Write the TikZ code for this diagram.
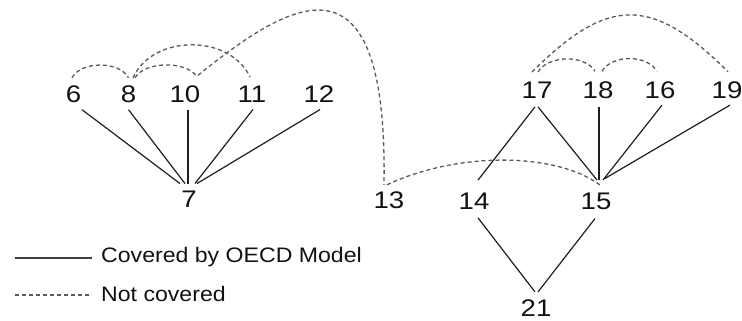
\documentclass[tikz,border=0pt]{standalone}
\usepackage{fontspec}
\setmainfont{Liberation Sans}
\newfontfamily\numfont[FakeStretch=1.15]{Liberation Sans}
\newfontfamily\legfont[FakeStretch=1.1]{Liberation Sans}
\definecolor{txt}{HTML}{111111}
\definecolor{solidc}{HTML}{1E1E1E}
\definecolor{dashc}{HTML}{5A5A5A}
\begin{document}
\begin{tikzpicture}[x=1pt,y=1pt,
  num/.style={inner sep=0pt, font=\numfont\fontsize{24}{24}\selectfont, text=txt},
  cov/.style={draw=solidc, line width=1.2pt},
  notcov/.style={draw=dashc, line width=1.3pt, dash pattern=on 4pt off 3pt},
  leg/.style={inner sep=0pt, anchor=base west, font=\legfont\fontsize{21}{21}\selectfont, text=txt}]
\useasboundingbox (0,0) rectangle (742,321);

% nodes
\node[num] (n6)  at (73.5,227) {6};
\node[num] (n8)  at (128.5,227) {8};
\node[num] (n10) at (185,227) {10};
\node[num] (n11) at (252,227) {11};
\node[num] (n12) at (319,227) {12};
\node[num] (n7)  at (189,122) {7};
\node[num] (n13) at (389,121) {13};
\node[num] (n17) at (537,231) {17};
\node[num] (n18) at (598,231) {18};
\node[num] (n16) at (660,231) {16};
\node[num] (n19) at (727,231) {19};
\node[num] (n14) at (474,120) {14};
\node[num] (n15) at (596,120) {15};
\node[num] (n21) at (536,12.5) {21};

% covered (solid) connectors
\draw[cov] ([xshift=8.5pt,yshift=-7pt]n6.south) -- ([xshift=-9pt,yshift=7pt]n7.north);
\draw[cov] ([yshift=-7pt]n8.south) -- ([xshift=-4pt,yshift=7pt]n7.north);
\draw[cov] ([xshift=3pt,yshift=-7pt]n10.south) -- ([xshift=-1pt,yshift=7pt]n7.north);
\draw[cov] ([xshift=1pt,yshift=-7pt]n11.south) -- ([xshift=6pt,yshift=7pt]n7.north);
\draw[cov] ([xshift=1pt,yshift=-7pt]n12.south) -- ([xshift=8pt,yshift=7pt]n7.north);

\draw[cov] ([xshift=-2pt,yshift=-8.4pt]n17.south) -- ([xshift=4pt,yshift=12.4pt]n14.north);
\draw[cov] ([xshift=1pt,yshift=-8.4pt]n17.south) -- ([xshift=1pt,yshift=12.4pt]n15.north);
\draw[cov] ([xshift=1pt,yshift=-8.4pt]n18.south) -- ([xshift=3pt,yshift=12.4pt]n15.north);
\draw[cov] ([xshift=2pt,yshift=-6.4pt]n16.south) -- ([xshift=7pt,yshift=12.4pt]n15.north);
\draw[cov] ([xshift=3pt,yshift=-6.4pt]n19.south) -- ([xshift=9pt,yshift=14pt]n15.north);
\draw[cov] ([xshift=4pt,yshift=-8.4pt]n14.south) -- ([xshift=-1pt,yshift=8pt]n21.north);
\draw[cov] ([xshift=-1pt,yshift=-9pt]n15.south) -- ([xshift=2pt,yshift=8pt]n21.north);

% not covered (dashed) connectors
\draw[notcov] ([xshift=-1.5pt,yshift=7.5pt]n6.north) .. controls +(9,17) and +(-9,17) .. ([yshift=7.5pt]n8.north);
\draw[notcov] ([xshift=6.5pt,yshift=7.5pt]n8.north) .. controls +(10,17) and +(-10,16) .. ([xshift=12pt,yshift=8.5pt]n10.north);
\draw[notcov] ([xshift=4.5pt,yshift=7.5pt]n8.north) .. controls +(20,44) and +(-20,43) .. ([xshift=-2pt,yshift=8.5pt]n11.north);
\draw[notcov] ([xshift=13pt,yshift=10pt]n10.north) .. controls +(92,74) and +(4,244) .. ([xshift=-5pt,yshift=6.5pt]n13.north);
\draw[notcov] ([xshift=-2pt,yshift=6.5pt]n13.north) .. controls +(70,33) and +(-45,33) .. ([xshift=4pt,yshift=7.5pt]n15.north);
\draw[notcov] ([xshift=1pt,yshift=9.5pt]n17.north) .. controls +(10,17) and +(-10,17) .. ([xshift=-3pt,yshift=10pt]n18.north);
\draw[notcov] ([xshift=4pt,yshift=10pt]n18.north) .. controls +(10,17) and +(-10,17) .. ([xshift=-3pt,yshift=10pt]n16.north);
\draw[notcov] ([xshift=-5pt,yshift=9.5pt]n17.north) .. controls +(76,76) and +(-76,76) .. ([xshift=1pt,yshift=9.5pt]n19.north);

% legend
\coordinate (s1) at (15,63);
\coordinate (s2) at (92,63);
\coordinate (d1) at (15,26);
\coordinate (d2) at (92,26);
\draw[cov, draw=solidc!85] (s1) -- (s2);
\draw[notcov] (d1) -- (d2);
\node[leg] (lc) at (101,58) {Covered by OECD Model};
\node[leg] (ln) at (101,19) {Not covered};
\end{tikzpicture}
\end{document}
